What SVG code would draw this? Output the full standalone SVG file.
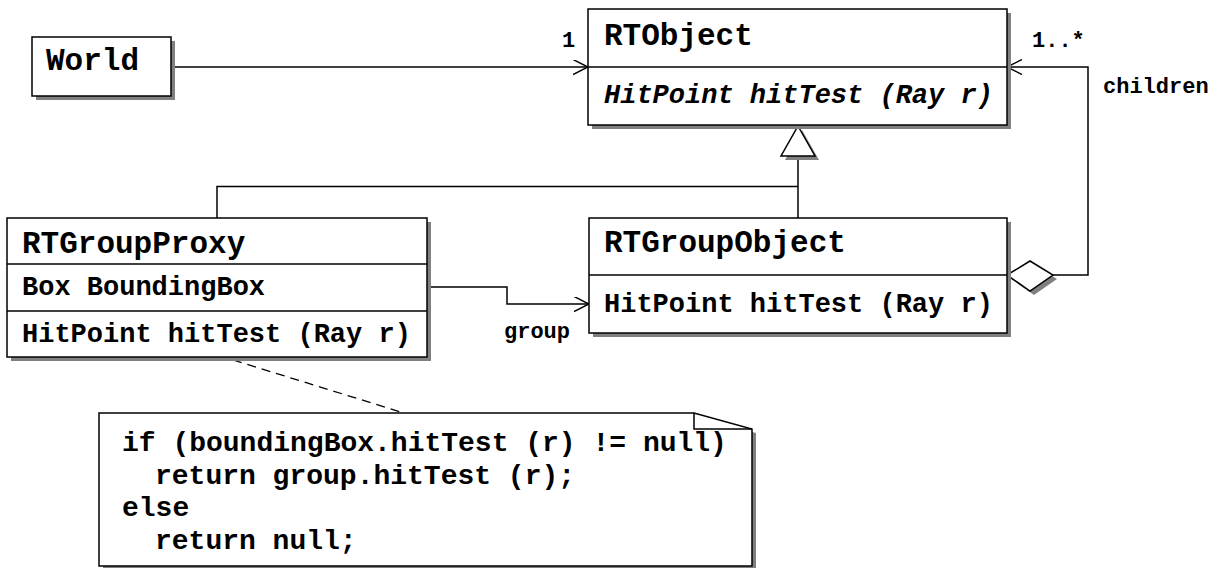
<svg xmlns="http://www.w3.org/2000/svg" width="1215" height="568" viewBox="0 0 1215 568">
<style>
.box{fill:#fff;stroke:#000;stroke-width:1.5}
.sh{fill:#808080;stroke:none}
.ln{fill:none;stroke:#000;stroke-width:1.5}
.dash{fill:none;stroke:#000;stroke-width:1.3;stroke-dasharray:9,6}
text{font-family:'Liberation Mono','Courier New',monospace;font-weight:bold;fill:#000}
.cls{font-size:31px}
.mem{font-size:27px}
.it{font-style:italic}
.lbl{font-size:22px}
.nt{font-size:28px}
</style>
<defs>
<marker id="open" markerWidth="16" markerHeight="16" refX="15" refY="7.5" orient="auto" markerUnits="userSpaceOnUse">
<path d="M0,0 L15,7.5 L0,15" fill="none" stroke="#000" stroke-width="1.5"/>
</marker>
</defs>
<g id="connectors">
<line class="ln" x1="171" y1="67" x2="588" y2="67" marker-end="url(#open)"/>
<path class="ln" d="M217,218 V186.5 H798"/>
<path class="ln" d="M798,218 V156"/>
<polygon class="sh" points="802,130 819,160 785,160"/>
<polygon class="box" points="798,126 815,156 781,156"/>
<path class="ln" d="M1053,275 H1088 V67 H1007" marker-end="url(#open)"/>
<polygon class="sh" points="1011,279 1034,265 1057,279 1034,295"/>
<polygon class="box" points="1007,275 1030,261 1053,275 1030,291"/>
<path class="ln" d="M427,287 H507 V304 H589" marker-end="url(#open)"/>
<line class="dash" x1="233" y1="360" x2="404" y2="413"/>
<text class="lbl" x="562" y="47">1</text>
<text class="lbl" x="1032" y="47">1..*</text>
<text class="lbl" x="1103" y="93">children</text>
<text class="lbl" x="504" y="338">group</text>
</g>
<g id="World">
<rect class="sh" x="36" y="41" width="139" height="59"/>
<rect class="box" x="32" y="37" width="139" height="59"/>
<text class="cls" x="46" y="70">World</text>
</g>
<g id="RTObject">
<rect class="sh" x="592" y="13" width="419" height="116"/>
<rect class="box" x="588" y="9" width="419" height="116"/>
<line class="ln" x1="588" y1="67" x2="1007" y2="67"/>
<text class="cls" x="604" y="45">RTObject</text>
<text class="mem it" x="604" y="103">HitPoint hitTest (Ray r)</text>
</g>
<g id="RTGroupProxy">
<rect class="sh" x="11" y="222" width="420" height="139"/>
<rect class="box" x="7" y="218" width="420" height="139"/>
<line class="ln" x1="7" y1="264" x2="427" y2="264"/>
<line class="ln" x1="7" y1="311" x2="427" y2="311"/>
<text class="cls" x="22" y="253">RTGroupProxy</text>
<text class="mem" x="22" y="295">Box BoundingBox</text>
<text class="mem" x="22" y="342">HitPoint hitTest (Ray r)</text>
</g>
<g id="RTGroupObject">
<rect class="sh" x="593" y="222" width="418" height="115"/>
<rect class="box" x="589" y="218" width="418" height="115"/>
<line class="ln" x1="589" y1="275" x2="1007" y2="275"/>
<text class="cls" x="604" y="252">RTGroupObject</text>
<text class="mem" x="604" y="312">HitPoint hitTest (Ray r)</text>
</g>
<g id="Note">
<path class="sh" d="M103,417 H698 L756,433 V570 H103 Z"/>
<path class="box" d="M99,413 H694 L752,429 V566 H99 Z"/>
<path class="ln" d="M694,413 V429 H752"/>
<text class="nt" x="122" y="451">if (boundingBox.hitTest (r) != null)</text>
<text class="nt" x="155" y="484">return group.hitTest (r);</text>
<text class="nt" x="122" y="516">else</text>
<text class="nt" x="155" y="549">return null;</text>
</g>
</svg>
